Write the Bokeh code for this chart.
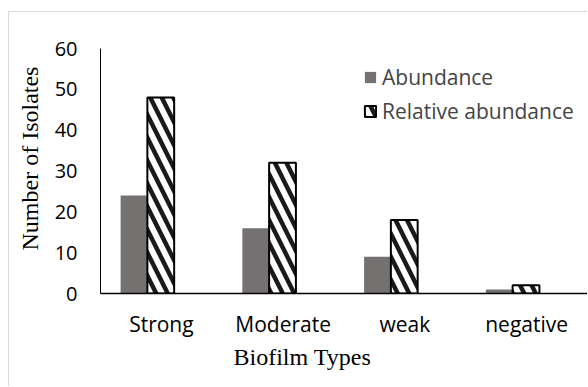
from bokeh.embed import file_html
from bokeh.resources import INLINE
from bokeh.plotting import figure
from bokeh.models import (ColumnDataSource, FactorRange, FixedTicker, Title,
                          Legend, LegendItem)
from bokeh.transform import dodge

# Biofilm-forming isolates by biofilm category
categories = ["Strong", "Moderate", "weak", "negative"]
abundance = [24, 16, 9, 1]
relative_abundance = [48, 32, 18, 2]
y_ticks = [0, 10, 20, 30, 40, 50, 60]

source = ColumnDataSource(dict(cat=categories, abundance=abundance,
                               relative=relative_abundance))

SANS = "Open Sans"
SERIF = "Liberation Serif"

# light grey chart-area border on the top and left edges
p = figure(width=579, height=375, x_range=FactorRange(*categories, range_padding=0),
           y_range=(0, 60), output_backend="svg", toolbar_location=None,
           min_border_left=91, min_border_right=1, min_border_top=36,
           min_border_bottom=94,
           styles={"margin-left": "8px", "margin-top": "11px",
                   "border-left": "1px solid #d9d9d9",
                   "border-top": "1px solid #d9d9d9"})
p.outline_line_color = None
p.grid.grid_line_color = None
p.background_fill_color = "white"
p.border_fill_color = "white"

# clustered bars; the cluster sits slightly left of each category centre
bw = 0.22
shift = -0.115
r_abund = p.vbar(x=dodge("cat", shift - bw / 2, range=p.x_range), top="abundance",
                 width=bw, source=source, fill_color="#767171", line_color=None)
r_rel = p.vbar(x=dodge("cat", shift + bw / 2, range=p.x_range), top="relative",
               width=bw, source=source, fill_color="white", line_color="black",
               line_width=2, hatch_pattern="left_diagonal_line", hatch_color="#1a1a1a",
               hatch_weight=4.5, hatch_scale=23)

# axes
yax = p.yaxis[0]
yax.ticker = FixedTicker(ticks=y_ticks)
yax.major_tick_line_color = None
yax.minor_tick_line_color = None
yax.major_tick_out = 0
yax.minor_tick_out = 0
yax.major_label_standoff = 23
yax.axis_line_color = "black"
yax.major_label_text_font = SANS
yax.major_label_text_font_size = "20px"
yax.major_label_text_color = "black"

xax = p.xaxis[0]
xax.major_tick_line_color = None
xax.minor_tick_line_color = None
xax.major_label_standoff = 10
xax.axis_line_color = "black"
xax.axis_line_width = 1.5
xax.major_label_text_font = SANS
xax.major_label_text_font_size = "21px"
xax.major_label_text_color = "black"

# axis titles
p.add_layout(Title(text="Biofilm Types", align="left", offset=133,
                   vertical_align="top", standoff=7, text_font=SERIF,
                   text_font_size="24px", text_font_style="normal",
                   text_color="black"), "below")
p.add_layout(Title(text="Number of Isolates", align="left", offset=43,
                   vertical_align="top", standoff=13, text_font=SERIF,
                   text_font_size="24px", text_font_style="normal",
                   text_color="black"), "left")

legend = Legend(items=[LegendItem(label="Abundance", renderers=[r_abund]),
                       LegendItem(label="Relative abundance", renderers=[r_rel])],
                location=(263, 168), padding=0, margin=0, spacing=6,
                glyph_width=14, glyph_height=14, label_standoff=5,
                label_text_font=SANS, label_text_font_size="21px",
                border_line_color=None, background_fill_alpha=0)
p.add_layout(legend)

open("out.html", "w").write(file_html(p, INLINE))
